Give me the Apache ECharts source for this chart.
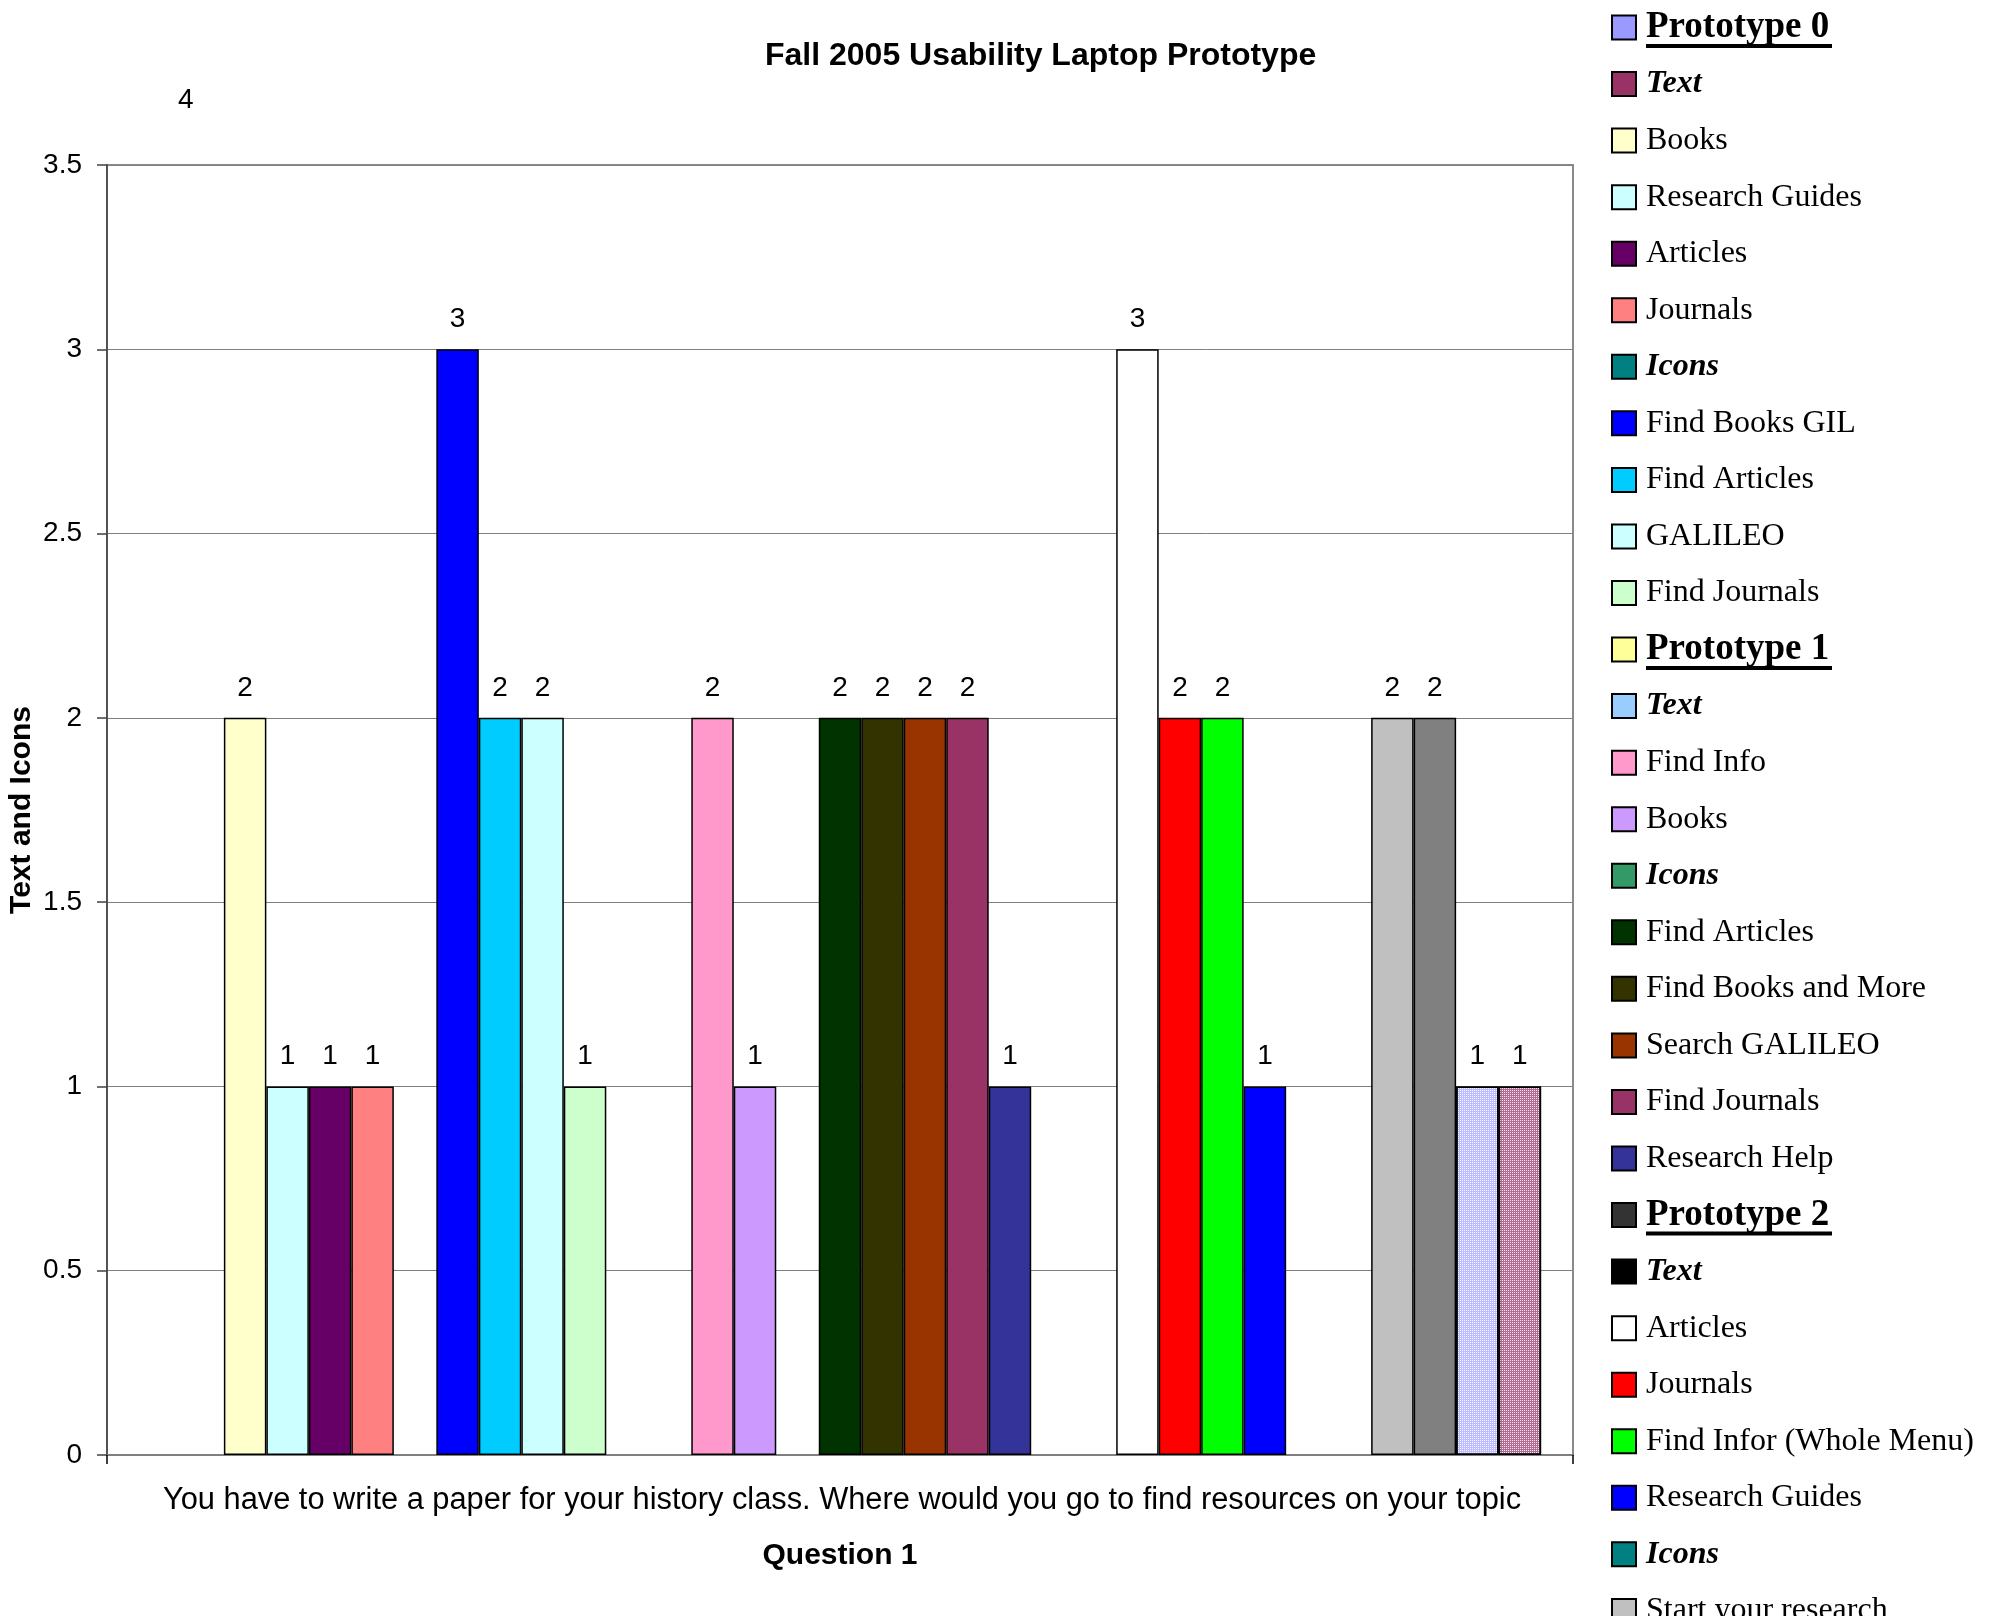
<!DOCTYPE html>
<html>
<head>
<meta charset="utf-8">
<script src="https://cdn.jsdelivr.net/npm/echarts@6/dist/echarts.min.js"></script>
<style>html,body{margin:0;padding:0;background:#fff;}#chart{width:1999px;height:1616px;}</style>
</head>
<body>
<div id="chart"></div>
<script>
const categories = ['You have to write a paper for your history class. Where would you go to find resources on your topic'];
const seriesNames = ['Prototype 0','Text','Books','Research Guides','Articles','Journals','Icons','Find Books GIL','Find Articles','GALILEO','Find Journals',
  'Prototype 1','Text','Find Info','Books','Icons','Find Articles','Find Books and More','Search GALILEO','Find Journals','Research Help',
  'Prototype 2','Text','Articles','Journals','Find Infor (Whole Menu)','Research Guides','Icons','Start your research',
  'Series 30','Series 31','Series 32','Series 33'];
const seriesValues = [null,null,2,1,1,1,null,3,2,2,1,
  null,null,2,1,null,2,2,2,2,1,
  null,null,3,2,2,1,null,null,
  2,2,1,1];
const seriesColors = ['#9999FF','#993366','#FFFFCC','#CCFFFF','#660066','#FF8080','#008080','#0000FF','#00CCFF','#CCFFFF','#CCFFCC',
  '#FFFF99','#99CCFF','#FF99CC','#CC99FF','#339966','#003300','#333300','#993300','#993366','#333399',
  '#333333','#000000','#FFFFFF','#FF0000','#00FF00','#0000FF','#008080','#C0C0C0',
  '#C0C0C0','#808080','#BDBDFF','#B36B91'];
const patternedIdx = [31, 32];
const headerIdx = [0, 11, 21];
const subHeaderIdx = [1, 6, 12, 15, 22, 27];
const visibleLegendCount = 29;
const strayLabel = '4';
const yTicks = {min: 0, max: 3.5, interval: 0.5};

const uid = (i) => seriesNames[i] + '~' + i;
const CLEAR = 'rgba(255,255,255,0)';

const series = seriesNames.map((n, i) => {
  const itemStyle = {color: seriesColors[i], borderColor: '#000', borderWidth: 1.5};
  if (patternedIdx.indexOf(i) >= 0) {
    itemStyle.decal = {symbol: 'rect', symbolSize: 1, color: 'rgba(255,255,255,0.85)', dashArrayX: [1, 1], dashArrayY: [1, 1], rotation: 0};
  }
  return {
    name: uid(i),
    type: 'bar',
    data: [seriesValues[i]],
    barGap: '0%',
    barCategoryGap: '4.35%',
    itemStyle: itemStyle,
    label: {show: true, position: 'top', distance: 16, color: '#000', fontSize: 28, fontFamily: 'Liberation Sans'},
    emphasis: {disabled: true},
    animation: false
  };
});

const legendNames = seriesNames.slice(0, visibleLegendCount).map((n, i) => uid(i));

const chart = echarts.init(document.getElementById('chart'));
chart.setOption({
  backgroundColor: '#fff',
  animation: false,
  title: {
    text: 'Fall 2005 Usability Laptop Prototype',
    left: 765, top: 40, padding: 0,
    textStyle: {fontFamily: 'Liberation Sans', fontWeight: 'bold', fontSize: 32, color: '#000'}
  },
  graphic: [{
    type: 'text', left: 178, top: 86,
    style: {text: strayLabel, fontFamily: 'Liberation Sans', fontSize: 28, fill: '#000'}
  }],
  grid: {left: 107, top: 165, right: 426, bottom: 161, show: true, borderColor: '#8a8a8a', borderWidth: 2,
    containLabel: false, outerBoundsMode: 'none'},
  legend: {
    orient: 'vertical', left: 1611, top: 5.5, padding: 0, itemGap: 12.55, height: 2400,
    itemWidth: 24, itemHeight: 24, icon: 'rect',
    itemStyle: {borderColor: '#000', borderWidth: 2},
    data: legendNames,
    selectedMode: false,
    formatter: function (name) {
      const i = parseInt(name.split('~')[1], 10);
      const label = name.split('~')[0];
      if (headerIdx.indexOf(i) >= 0) return '{s| }\n{h|' + label + '}\n{p| }{u| }';
      if (subHeaderIdx.indexOf(i) >= 0) return '{b|' + label + '}';
      return '{n|' + label + '}';
    },
    textStyle: {
      color: '#000', fontFamily: 'Liberation Serif', fontSize: 32,
      rich: {
        s: {width: 5, height: 7, lineHeight: 7, fontSize: 4, backgroundColor: CLEAR},
        h: {fontFamily: 'Liberation Serif', fontWeight: 'bold', fontSize: 37, lineHeight: 30, color: '#000', padding: [0, 0, 0, 5]},
        p: {width: 5, height: 7, lineHeight: 7, fontSize: 4, backgroundColor: CLEAR},
        u: {width: 186, height: 4, lineHeight: 7, fontSize: 4, backgroundColor: '#000'},
        b: {fontFamily: 'Liberation Serif', fontWeight: 'bold', fontStyle: 'italic', fontSize: 32, height: 44, lineHeight: 44, color: '#000', padding: [0, 0, 0, 5], backgroundColor: CLEAR},
        n: {fontFamily: 'Liberation Serif', fontSize: 32, height: 44, lineHeight: 44, color: '#000', padding: [0, 0, 0, 5], backgroundColor: CLEAR}
      }
    }
  },
  xAxis: {
    type: 'category',
    data: categories,
    name: 'Question 1',
    nameLocation: 'middle',
    nameGap: 86,
    nameTextStyle: {fontFamily: 'Liberation Sans', fontWeight: 'bold', fontSize: 30, color: '#000'},
    axisLine: {lineStyle: {color: '#808080', width: 2}},
    axisTick: {show: true, length: 9, lineStyle: {color: '#000', width: 1.5}},
    axisLabel: {margin: 30, padding: [0, 0, 0, 4], fontFamily: 'Liberation Sans', fontSize: 30.8, color: '#000'},
    splitLine: {show: false}
  },
  yAxis: {
    type: 'value',
    min: yTicks.min, max: yTicks.max, interval: yTicks.interval,
    name: 'Text and Icons',
    nameLocation: 'middle',
    nameGap: 70,
    nameMoveOverlap: false,
    nameTextStyle: {fontFamily: 'Liberation Sans', fontWeight: 'bold', fontSize: 30, color: '#000'},
    axisLine: {show: true, lineStyle: {color: '#404040', width: 1.5}},
    axisTick: {show: true, length: 10, lineStyle: {color: '#404040', width: 1.5}},
    axisLabel: {margin: 25, fontFamily: 'Liberation Sans', fontSize: 28, color: '#000'},
    splitLine: {show: true, lineStyle: {color: '#808080', width: 1}}
  },
  series: series
});
</script>
</body>
</html>
